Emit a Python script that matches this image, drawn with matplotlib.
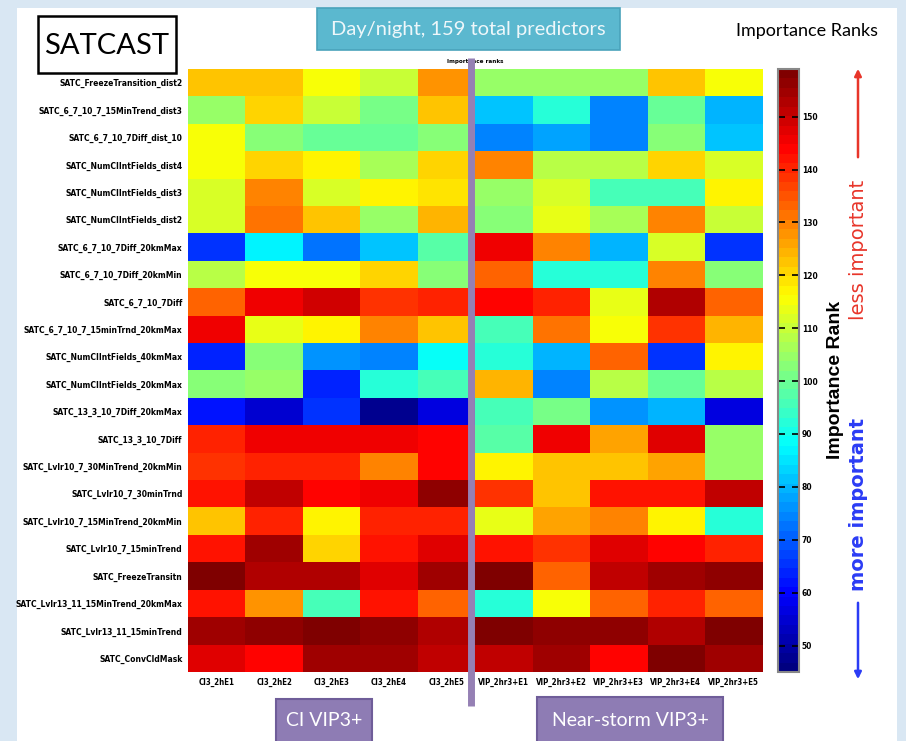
import numpy as np
import matplotlib.pyplot as plt
from matplotlib.patches import Rectangle, FancyArrowPatch
from matplotlib.colors import LinearSegmentedColormap

# predictors (rows, top to bottom)
predictors = [
    "SATC_FreezeTransition_dist2",
    "SATC_6_7_10_7_15MinTrend_dist3",
    "SATC_6_7_10_7Diff_dist_10",
    "SATC_NumCIIntFields_dist4",
    "SATC_NumCIIntFields_dist3",
    "SATC_NumCIIntFields_dist2",
    "SATC_6_7_10_7Diff_20kmMax",
    "SATC_6_7_10_7Diff_20kmMin",
    "SATC_6_7_10_7Diff",
    "SATC_6_7_10_7_15minTrnd_20kmMax",
    "SATC_NumCIIntFields_40kmMax",
    "SATC_NumCIIntFields_20kmMax",
    "SATC_13_3_10_7Diff_20kmMax",
    "SATC_13_3_10_7Diff",
    "SATC_Lvlr10_7_30MinTrend_20kmMin",
    "SATC_Lvlr10_7_30minTrnd",
    "SATC_Lvlr10_7_15MinTrend_20kmMin",
    "SATC_Lvlr10_7_15minTrend",
    "SATC_FreezeTransitn",
    "SATC_Lvlr13_11_15MinTrend_20kmMax",
    "SATC_Lvlr13_11_15minTrend",
    "SATC_ConvCldMask",
]

# models (columns)
models = ["CI3_2hE1", "CI3_2hE2", "CI3_2hE3", "CI3_2hE4", "CI3_2hE5",
          "VIP_2hr3+E1", "VIP_2hr3+E2", "VIP_2hr3+E3", "VIP_2hr3+E4", "VIP_2hr3+E5"]

# importance ranks, CI VIP3+ models (5 columns)
ranks_ci = [
    [123, 123, 116, 110, 128],
    [105, 120, 110, 101, 123],
    [116, 103, 99, 99, 102],
    [116, 121, 118, 106, 121],
    [112, 130, 112, 118, 119],
    [112, 132, 123, 105, 125],
    [65, 86, 72, 82, 98],
    [109, 116, 116, 121, 102],
    [133, 146, 149, 138, 140],
    [145, 113, 117, 129, 123],
    [63, 102, 77, 74, 88],
    [102, 104, 63, 92, 96],
    [62, 55, 65, 48, 57],
    [140, 145, 145, 145, 143],
    [138, 140, 140, 129, 143],
    [142, 151, 143, 146, 157],
    [123, 140, 117, 140, 140],
    [142, 155, 120, 142, 147],
    [159, 152, 152, 147, 154],
    [142, 128, 96, 142, 133],
    [154, 157, 159, 157, 153],
    [148, 144, 155, 155, 151],
]

# importance ranks, near-storm VIP3+ models (5 columns)
ranks_vip = [
    [105, 105, 105, 123, 116],
    [82, 92, 75, 99, 80],
    [75, 78, 75, 102, 82],
    [130, 109, 108, 121, 112],
    [104, 112, 95, 96, 118],
    [102, 113, 106, 130, 110],
    [145, 129, 80, 112, 65],
    [133, 93, 93, 129, 102],
    [143, 141, 113, 153, 133],
    [96, 131, 116, 138, 125],
    [93, 80, 133, 66, 117],
    [125, 74, 108, 99, 109],
    [96, 101, 77, 80, 56],
    [97, 146, 126, 148, 105],
    [117, 122, 122, 126, 105],
    [138, 123, 142, 142, 151],
    [114, 126, 130, 118, 93],
    [142, 138, 148, 144, 141],
    [159, 134, 151, 155, 156],
    [93, 116, 133, 140, 134],
    [159, 157, 157, 153, 159],
    [151, 155, 144, 159, 155],
]

ranks = np.hstack([np.array(ranks_ci), np.array(ranks_vip)])

# matlab style jet, 64 levels
jet_segments = {
    'red': [(0, 0, 0), (3 / 8, 0, 0), (5 / 8, 1, 1), (7 / 8, 1, 1), (1, 0.5, 0.5)],
    'green': [(0, 0, 0), (1 / 8, 0, 0), (3 / 8, 1, 1), (5 / 8, 1, 1), (7 / 8, 0, 0), (1, 0, 0)],
    'blue': [(0, 0.5, 0.5), (1 / 8, 1, 1), (3 / 8, 1, 1), (5 / 8, 0, 0), (1, 0, 0)],
}
cmap = LinearSegmentedColormap('mjet', jet_segments, N=64)

fig = plt.figure(figsize=(9.06, 7.41), dpi=100)
fig.patch.set_facecolor('#d9e7f3')
# white slide panel
fig.patches.append(Rectangle((17 / 906, 0), 880 / 906, 733 / 741, transform=fig.transFigure,
                             facecolor='white', edgecolor='none', zorder=-10))

small = dict(fontweight='bold', family='DejaVu Sans', fontstretch='condensed')

ax = fig.add_axes([188 / 906, 1 - 672 / 741, 574 / 906, 603 / 741])
im = ax.imshow(ranks, cmap=cmap, vmin=45, vmax=159, aspect='auto', interpolation='nearest')
ax.set_yticks(range(len(predictors)))
ax.set_yticklabels(predictors, fontsize=6.1, **small)
ax.set_xticks(range(len(models)))
ax.set_xticklabels(models, fontsize=5.7, **small)
ax.tick_params(length=0, pad=4)
for s in ax.spines.values():
    s.set_visible(False)
ax.set_title('Importance ranks', fontsize=4.5, pad=4, **small)

cax = fig.add_axes([778 / 906, 1 - 672 / 741, 21 / 906, 603 / 741])
cb = fig.colorbar(im, cax=cax, ticks=range(50, 160, 10))
cb.ax.tick_params(labelsize=6, direction='in', length=5, width=1.2, left=True, right=True, pad=2)
for t in cb.ax.get_yticklabels():
    t.set_fontweight('bold')
    t.set_fontstretch('condensed')
cb.outline.set_edgecolor('#888888')
cb.outline.set_linewidth(1.5)

# divider between the two model groups
fig.add_artist(plt.Line2D([471 / 906, 471 / 906], [1 - 706 / 741, 1 - 58 / 741],
                          color='#9580b4', linewidth=5, solid_capstyle='butt'))

# annotation boxes
fig.patches.append(Rectangle((38 / 906, 1 - 73 / 741), 138 / 906, 57 / 741, transform=fig.transFigure,
                             facecolor='white', edgecolor='black', linewidth=1.8))
fig.text(107 / 906, 1 - 46 / 741, 'SATCAST', fontsize=21, family='Lato', ha='center', va='center')
fig.patches.append(Rectangle((317 / 906, 1 - 50 / 741), 303 / 906, 42 / 741, transform=fig.transFigure,
                             facecolor='#5bb8cf', edgecolor='#4aa3bb', linewidth=1.2))
fig.text(468 / 906, 1 - 30 / 741, 'Day/night, 159 total predictors', fontsize=14.5, family='Lato',
         color='#eef7fa', ha='center', va='center')
fig.text(807 / 906, 1 - 31 / 741, 'Importance Ranks', fontsize=13, family='Lato', ha='center', va='center')
fig.patches.append(Rectangle((276 / 906, -0.01), 96 / 906, 42 / 741 + 0.01, transform=fig.transFigure,
                             facecolor='#8e7cb4', edgecolor='#6f5d99', linewidth=1.5))
fig.text(324 / 906, 1 - 721 / 741, 'CI VIP3+', fontsize=14, family='Lato', color='white',
         ha='center', va='center')
fig.patches.append(Rectangle((537 / 906, -0.01), 186 / 906, 44 / 741 + 0.01, transform=fig.transFigure,
                             facecolor='#8e7cb4', edgecolor='#6f5d99', linewidth=1.5))
fig.text(630 / 906, 1 - 720 / 741, 'Near-storm VIP3+', fontsize=14, family='Lato', color='white',
         ha='center', va='center')

# colorbar side labels
fig.text(836 / 906, 1 - 380 / 741, 'Importance Rank', fontsize=14, fontweight='bold',
         family='Liberation Sans', rotation=90, ha='center', va='center')
fig.text(858 / 906, 1 - 250 / 741, 'less important', fontsize=14, color='#e8352a',
         rotation=90, ha='center', va='center')
fig.text(858 / 906, 1 - 504 / 741, 'more important', fontsize=14, fontweight='bold', color='#2b3cf5',
         rotation=90, ha='center', va='center')
fig.add_artist(FancyArrowPatch((858 / 906, 1 - 160 / 741), (858 / 906, 1 - 66 / 741),
                               transform=fig.transFigure, arrowstyle='-|>', mutation_scale=10,
                               color='#e8352a', linewidth=1.8))
fig.add_artist(FancyArrowPatch((858 / 906, 1 - 600 / 741), (858 / 906, 1 - 682 / 741),
                               transform=fig.transFigure, arrowstyle='-|>', mutation_scale=10,
                               color='#2b3cf5', linewidth=1.8))

fig.savefig('out.png', dpi=100, facecolor=fig.get_facecolor())
